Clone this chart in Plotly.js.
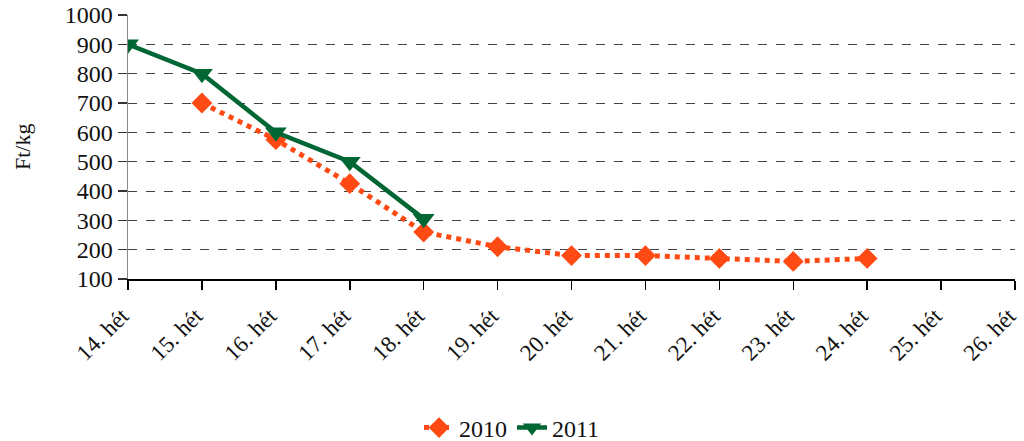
<!DOCTYPE html>
<html>
<head>
<meta charset="utf-8">
<script src="https://cdn.plot.ly/plotly-3.0.1.min.js"></script>
<style>html,body{margin:0;padding:0;background:#fff;}#chart{width:1024px;height:441px;}</style>
</head>
<body>
<div id="chart"></div>
<script>
var weeks = ["14. hét","15. hét","16. hét","17. hét","18. hét","19. hét","20. hét","21. hét","22. hét","23. hét","24. hét","25. hét","26. hét"];
var y2010 = [null, 700, 575, 425, 260, 210, 180, 180, 170, 160, 170, null, null];
var y2011 = [900, 800, 600, 500, 305, null, null, null, null, null, null, null, null];
var font = "Liberation Serif, Times New Roman, serif";

var traces = [
  {x: weeks, y: y2010, name: "2010", type: "scatter", mode: "lines+markers",
   line: {color: "#FF4A14", width: 5, dash: "dot"},
   marker: {symbol: "diamond", size: 16, color: "#FF4A14"}},
  {x: weeks, y: y2011, name: "2011", type: "scatter", mode: "lines+markers",
   line: {color: "#006633", width: 4.5},
   marker: {symbol: "triangle-down", size: 19, color: "#006633"}}
];

var layout = {
  width: 1024, height: 441,
  margin: {l: 128, r: 9, t: 15, b: 162, autoexpand: false},
  paper_bgcolor: "#fff", plot_bgcolor: "#fff",
  font: {family: font, size: 23, color: "#111"},
  showlegend: true,
  legend: {orientation: "h", x: 0.5, xanchor: "center", xref: "container",
           y: (441 - 428) / 441, yanchor: "middle", yref: "container",
           font: {family: font, size: 24, color: "#111"}, itemwidth: 30, tracegroupgap: 0},
  xaxis: {type: "category", range: [0, 12], tickangle: -45, showgrid: false, automargin: false,
          showline: true, linecolor: "#000", linewidth: 1.5,
          ticks: "outside", ticklen: 9, tickcolor: "#000", tickwidth: 1.5,
          ticklabelshift: -6, ticklabelstandoff: 4,
          tickfont: {family: font, size: 23, color: "#111"}, zeroline: false, fixedrange: true},
  yaxis: {range: [100, 1000], dtick: 100, tick0: 0, showgrid: true, automargin: false,
          gridcolor: "#444", griddash: "dash", gridwidth: 1,
          showline: true, linecolor: "#888", linewidth: 1.5,
          ticks: "outside", ticklen: 9, tickcolor: "#333", tickwidth: 1.5,
          tickfont: {family: font, size: 24, color: "#111"}, zeroline: false, fixedrange: true},
  annotations: [{text: "Ft/kg", xref: "paper", yref: "paper", x: (22 - 128) / 887, y: 0.5,
                 xanchor: "center", yanchor: "middle", textangle: -90, showarrow: false,
                 font: {family: font, size: 22, color: "#111"}}]
};

Plotly.newPlot("chart", traces, layout, {displayModeBar: false, staticPlot: true});
</script>
</body>
</html>
